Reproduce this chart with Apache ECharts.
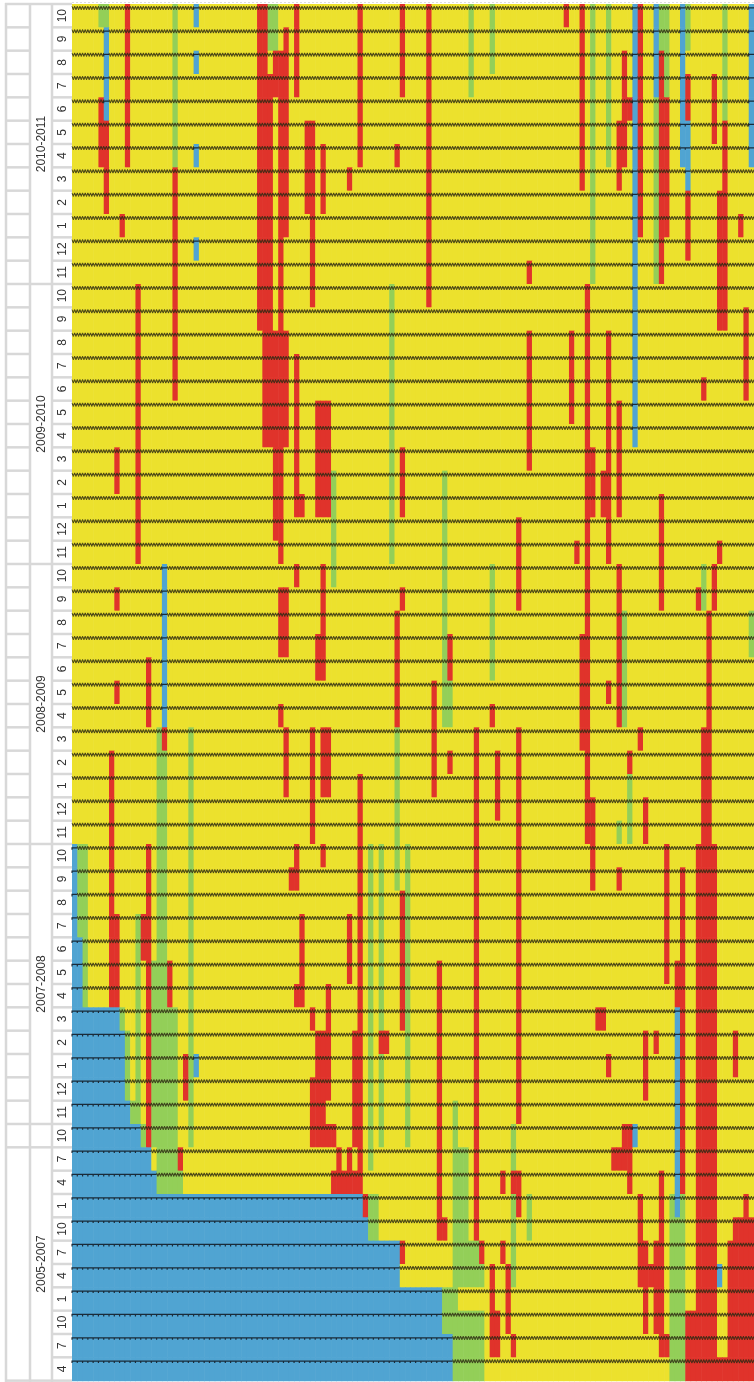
<!DOCTYPE html>
<html>
<head>
<meta charset="utf-8">
<script src="https://cdn.jsdelivr.net/npm/echarts@6/dist/echarts.min.js"></script>
<style>
  html, body { margin: 0; padding: 0; background: #ffffff; overflow: hidden; }
  #chart { width: 754px; height: 1382px; }
</style>
</head>
<body>
<div id="chart"></div>
<script>
// Period groups (top to bottom) and the month label of every row.
const groupNames = ['2010-2011', '2009-2010', '2008-2009', '2007-2008', '', '2005-2007'];
const groupSizes = [12, 12, 12, 12, 1, 10];
const monthLabels = [
  '10','9','8','7','6','5','4','3','2','1','12','11',
  '10','9','8','7','6','5','4','3','2','1','12','11',
  '10','9','8','7','6','5','4','3','2','1','12','11',
  '10','9','8','7','6','5','4','3','2','1','12','11',
  '10',
  '7','4','1','10','7','4','1','10','7','4'
];
const columnCount = 129;

// States: 0 yellow, 1 red, 2 green, 3 blue.
const stateColors = ['#ECE12D', '#E0332B', '#93CF58', '#50A4D2'];

// Leading blue cells per row (row 0 = top row).
const blueLead = [
  0,0,0,0,0,0,0,0,0,0,0,0,
  0,0,0,0,0,0,0,0,0,0,0,0,
  0,0,0,0,0,0,0,0,0,0,0,0,
  1,1,1,1,2,2,2,9,10,10,10,11,
  13,
  15,16,55,56,62,62,70,70,72,72
];

// Runs of a state: [firstColumn, lastColumn, firstRow, lastRow].
const greenRuns = [
  [5,6,0,0],[19,19,0,6],[37,38,0,1],[75,75,0,3],[79,79,0,2],[98,98,0,11],
  [101,101,0,6],[111,112,0,1],[112,112,2,3],[110,110,4,11],[116,116,0,1],[123,123,0,4],
  [60,60,12,23],[49,49,20,24],[70,70,20,30],[79,79,24,28],[104,104,26,30],[105,105,33,35],
  [103,103,35,35],[119,119,24,25],[128,128,26,27],[16,17,31,48],[16,16,49,50],[17,19,49,50],
  [20,20,50,50],[22,22,31,48],[61,61,31,37],[70,71,29,30],
  [1,1,36,39],[2,2,36,42],[9,9,43,43],[10,10,44,46],[11,11,47,47],[12,12,39,47],
  [15,15,41,48],[18,19,43,48],[56,56,36,49],[58,58,36,48],[63,63,36,48],[13,13,48,48],
  [72,72,47,48],[72,74,49,52],[72,76,53,53],[72,77,54,54],[70,72,55,55],[70,77,56,56],
  [72,77,57,58],[83,83,48,54],[86,86,51,52],[56,57,51,52],[113,115,51,58]
];
const redRuns = [
  [5,5,4,6],[6,6,5,8],[9,9,9,9],[10,10,0,6],[19,19,7,16],
  [35,36,0,11],[37,37,3,11],[40,40,1,9],[38,39,2,3],[39,39,4,11],[42,42,0,3],
  [44,44,5,8],[45,45,5,11],[47,47,6,8],[52,52,7,7],[54,54,0,6],[61,61,6,6],
  [62,62,0,3],[67,67,0,12],[86,86,11,11],[93,93,0,0],[96,96,0,7],
  [104,104,2,6],[105,105,4,4],[103,103,5,7],[107,107,0,9],[111,111,2,11],[112,112,4,9],
  [116,116,3,4],[116,116,8,10],[121,121,3,5],[123,123,5,13],[122,122,8,13],[126,126,9,9],
  [12,12,12,23],[35,37,12,13],[39,39,12,13],[36,40,14,18],[38,39,19,22],[39,39,23,23],
  [42,42,15,21],[43,43,21,21],[45,45,12,12],[46,48,17,21],[62,62,19,21],[84,84,22,25],
  [86,86,14,19],[94,94,14,17],[95,95,23,23],[97,97,12,23],[98,98,19,21],[100,100,20,21],
  [101,101,14,23],[103,103,17,21],[111,111,21,23],[119,119,16,16],[122,122,23,23],
  [127,127,13,16],[8,8,19,20],
  [8,8,25,25],[8,8,29,29],[14,14,28,30],[17,17,31,31],[39,40,25,27],[39,39,30,30],
  [40,40,31,33],[42,42,24,24],[45,45,31,35],[47,47,24,28],[46,46,27,28],[47,48,31,33],
  [54,54,33,50],[61,61,26,30],[62,62,25,25],[68,68,29,33],[71,71,27,28],[71,71,32,32],
  [76,76,31,52],[79,79,30,30],[80,80,32,34],[84,84,31,47],[96,97,27,31],[97,97,24,26],
  [97,97,32,33],[97,98,34,35],[101,101,29,29],[103,103,24,30],[105,105,32,32],
  [107,107,31,31],[108,108,34,35],[111,111,24,25],[118,118,25,25],[120,120,26,30],
  [121,121,24,25],[7,7,32,42],
  [8,8,39,42],[13,13,39,40],[14,14,36,48],[18,18,41,42],[21,21,45,46],[42,42,36,37],
  [41,41,37,37],[43,43,39,41],[42,43,42,42],[45,45,43,43],[45,45,46,47],[46,47,44,48],
  [48,48,42,46],[47,47,36,36],[52,52,39,41],[53,53,44,48],[58,59,44,44],[62,62,38,43],
  [69,69,41,52],[98,98,36,37],[99,100,43,43],[101,101,45,45],[103,103,37,37],
  [108,108,44,46],[110,110,44,44],[112,112,36,41],[114,115,41,42],[115,115,37,50],
  [119,120,31,35],[118,121,36,57],[125,125,44,45],
  [45,49,48,48],[50,50,49,49],[52,52,49,49],[20,20,49,49],[49,54,50,50],[81,81,50,50],
  [83,84,50,50],[104,105,48,48],[102,105,49,49],[105,105,50,50],[111,111,50,57],
  [55,55,51,51],[84,84,51,51],[107,107,51,54],[127,127,51,51],[69,70,52,52],
  [125,128,52,52],[62,62,53,53],[77,77,53,53],[81,81,53,53],[108,108,53,54],
  [110,110,53,56],[124,128,53,57],[79,79,54,55],[82,82,54,56],[108,108,55,56],
  [109,109,54,54],[79,80,56,57],[83,83,57,57],[112,112,57,57],[116,117,56,58],[116,128,58,58]
];
const blueRuns = [
  [6,6,1,4],[23,23,0,0],[23,23,2,2],[23,23,6,6],[23,23,10,10],
  [106,106,0,18],[110,110,0,3],[115,115,0,6],[116,116,5,7],[128,128,0,6],
  [17,17,24,30],[23,23,45,45],[106,106,48,48],[114,114,43,51],[122,122,54,54]
];

// Build the state matrix.
const rowCount = monthLabels.length;
const state = [];
for (let r = 0; r < rowCount; r++) {
  const row = [];
  for (let c = 0; c < columnCount; c++) row.push(c < blueLead[r] ? 3 : 0);
  state.push(row);
}
function paint(runs, v) {
  runs.forEach(([c0, c1, r0, r1]) => {
    for (let r = r0; r <= r1; r++) for (let c = c0; c <= c1; c++) state[r][c] = v;
  });
}
paint(greenRuns, 2);
paint(redRuns, 1);
paint(blueRuns, 3);

const cells = [];
for (let r = 0; r < rowCount; r++)
  for (let c = 0; c < columnCount; c++) cells.push([c, r, state[r][c]]);

const colIds = Array.from({length: columnCount}, (_, i) => String(i + 1));
const rowIds = monthLabels.map((m, i) => i + ':' + m);

const chart = echarts.init(document.getElementById('chart'));

// One filled cell; a slight overlap hides hairline seams between neighbours.
function renderCell(params, api) {
  const p = api.coord([api.value(0), api.value(1)]);
  const s = api.size([1, 1]);
  return {
    type: 'rect',
    shape: {x: p[0] - s[0] / 2, y: p[1] - s[1] / 2, width: s[0] + 0.6, height: s[1] + 0.6},
    style: {fill: stateColors[api.value(2)]}
  };
}

// Small glyph strip drawn along the top edge of each row.
function renderRowGlyphs(params, api) {
  const r = api.value(1);
  const size = api.size([1, 1]);
  const w = size[0], h = size[1];
  const children = [];
  let c = 0;
  while (c < columnCount) {
    const blue = state[r][c] === 3;
    let e = c;
    while (e + 1 < columnCount && (state[r][e + 1] === 3) === blue) e++;
    const top = api.coord([c, r])[1] - h / 2;
    if (blue) {
      const pts = [];
      for (let k = c; k <= e; k++) {
        const x = api.coord([k, r])[0] - w / 2;
        pts.push([x, top + 5.8], [x, top + 3.8], [x + w, top + 3.8]);
      }
      children.push({type: 'polyline', shape: {points: pts},
        style: {stroke: 'rgba(20,30,40,0.9)', lineWidth: 1.2, fill: null}});
    } else {
      const pts = [];
      for (let k = c; k <= e; k++) {
        const x = api.coord([k, r])[0] - w / 2;
        pts.push([x, top + 2.2], [x + w * 0.25, top + 5.8], [x + w * 0.5, top + 2.2], [x + w * 0.75, top + 5.8]);
      }
      pts.push([api.coord([e, r])[0] + w / 2, top + 2.2]);
      children.push({type: 'polyline', shape: {points: pts},
        style: {stroke: 'rgba(45,42,20,0.8)', lineWidth: 1, fill: null}});
      const a = api.coord([c, r])[0] - w / 2, b = api.coord([e, r])[0] + w / 2;
      children.push({type: 'line', shape: {x1: a, y1: top + 3.8, x2: b, y2: top + 3.8},
        style: {stroke: 'rgba(45,42,20,0.55)', lineWidth: 0.8}});
    }
    c = e + 1;
  }
  return {type: 'group', children};
}

chart.setOption({
  animation: false,
  backgroundColor: '#ffffff',
  grid: {left: 72, top: 4, width: columnCount * 5.3, height: rowCount * 23.333},
  xAxis: {type: 'category', data: colIds, show: false},
  yAxis: {type: 'category', data: rowIds, inverse: true, show: false},
  series: [
    {type: 'custom', data: cells, renderItem: renderCell, encode: {x: 0, y: 1}, z: 2, silent: true},
    {type: 'custom', data: rowIds.map((_, r) => [0, r]), renderItem: renderRowGlyphs,
     encode: {x: 0, y: 1}, z: 3, silent: true}
  ]
});

// Row header table drawn beside the plot.
const px = (r) => chart.convertToPixel({xAxisIndex: 0, yAxisIndex: 0}, [0, r])[1];
const band = px(1) - px(0);
function rowTop(r) {
  return r >= rowCount ? px(rowCount - 1) + band / 2 : px(r) - band / 2;
}
const lineColor = '#d8d8d8';
const graphics = [];
const topY = rowTop(0);
[6, 30, 52].forEach(x => graphics.push({type: 'line', shape: {x1: x, y1: topY - 1, x2: x, y2: 1382},
  style: {stroke: lineColor, lineWidth: 2.5}, silent: true}));
graphics.push({type: 'line', shape: {x1: 72, y1: 2.5, x2: 754, y2: 2.5},
  style: {stroke: '#dddddd', lineWidth: 1, lineDash: [2, 2]}, silent: true});

let start = 0;
const groupBounds = [0];
groupSizes.forEach(n => { start += n; groupBounds.push(start); });
// First column: a line at every row down to the single-row group, then the group edge.
const firstColBreaks = [];
for (let r = 0; r <= groupBounds[5]; r++) firstColBreaks.push(r);
firstColBreaks.push(rowCount);
firstColBreaks.forEach(r => {
  const y = rowTop(r);
  graphics.push({type: 'line', shape: {x1: 5, y1: y, x2: 30, y2: y}, style: {stroke: lineColor, lineWidth: 2.5}, silent: true});
});
groupBounds.forEach(r => {
  const y = rowTop(r);
  graphics.push({type: 'line', shape: {x1: 30, y1: y, x2: 52, y2: y}, style: {stroke: lineColor, lineWidth: 2.5}, silent: true});
});
for (let r = 0; r <= rowCount; r++) {
  const y = rowTop(r);
  graphics.push({type: 'line', shape: {x1: 52, y1: y, x2: 72, y2: y}, style: {stroke: lineColor, lineWidth: 2.5}, silent: true});
}
monthLabels.forEach((m, r) => {
  const y = (rowTop(r) + rowTop(r + 1)) / 2;
  graphics.push({type: 'text', x: 62.5, y: y, rotation: Math.PI / 2, silent: true,
    style: {text: m, fill: '#333333', font: '12px "Liberation Sans", Arial, sans-serif', align: 'center', verticalAlign: 'middle'}});
});
groupNames.forEach((g, i) => {
  if (!g) return;
  const y = (rowTop(groupBounds[i]) + rowTop(groupBounds[i + 1])) / 2;
  graphics.push({type: 'text', x: 41.5, y: y, rotation: Math.PI / 2, silent: true,
    style: {text: g, fill: '#333333', font: '12px "Liberation Sans", Arial, sans-serif', align: 'center', verticalAlign: 'middle'}});
});
chart.setOption({graphic: graphics});
</script>
</body>
</html>
